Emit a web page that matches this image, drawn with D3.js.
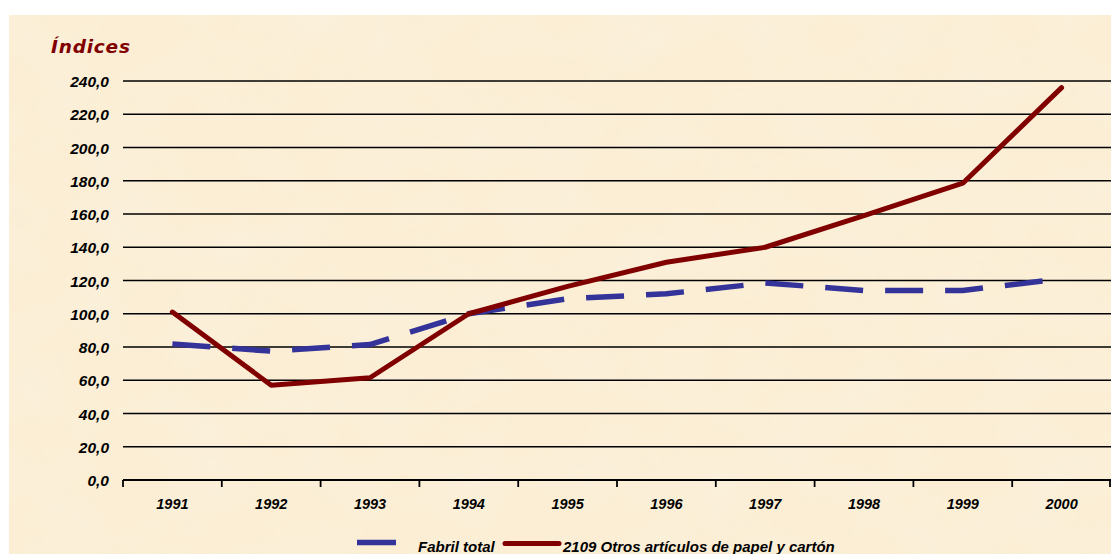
<!DOCTYPE html>
<html>
<head>
<meta charset="utf-8">
<script src="https://cdn.jsdelivr.net/npm/d3@7/dist/d3.min.js"></script>
<style>
  html, body { margin: 0; padding: 0; background: #ffffff; }
  svg { display: block; }
</style>
</head>
<body>
<div id="chart"></div>
<script>
// Data
var years = ['1991', '1992', '1993', '1994', '1995', '1996', '1997', '1998', '1999', '2000'];
var fabrilTotal = [81.8, 77.5, 81.5, 100, 109, 112, 118.5, 114, 114, 121];
var papelCarton = [101, 57, 61.5, 100, 116.5, 131, 140, 159, 178.5, 236];
var yTicks = [0, 20, 40, 60, 80, 100, 120, 140, 160, 180, 200, 220, 240];
var seriesNames = ['Fabril total', '2109 Otros artículos de papel y cartón'];

var W = 1111, H = 554;
var COLORS = {
  BLUE: '#333399',
  RED: '#800000',
  TEXT: '#000000',
  BG: '#fbeed4'
};

var svg = d3.select('#chart').append('svg')
  .attr('width', W)
  .attr('height', H);

// Parchment-ish background
var defs = svg.append('defs');
var filt = defs.append('filter').attr('id', 'paper')
  .attr('x', 0).attr('y', 0).attr('width', '100%').attr('height', '100%');
filt.append('feTurbulence')
  .attr('type', 'fractalNoise')
  .attr('baseFrequency', '0.012 0.018')
  .attr('numOctaves', 4)
  .attr('seed', 7)
  .attr('result', 'noise');
filt.append('feColorMatrix')
  .attr('in', 'noise')
  .attr('type', 'matrix')
  .attr('values', '0 0 0 0 0.96  0 0 0 0 0.88  0 0 0 0 0.74  0 0 0 -1.1 0.75')
  .attr('result', 'tint');
filt.append('feComposite').attr('in', 'tint').attr('in2', 'SourceGraphic').attr('operator', 'in');

svg.append('rect')
  .attr('x', 9).attr('y', 15)
  .attr('width', W - 9).attr('height', H - 15)
  .attr('fill', COLORS.BG);
svg.append('rect')
  .attr('x', 9).attr('y', 15)
  .attr('width', W - 9).attr('height', H - 15)
  .attr('fill', COLORS.BG)
  .attr('filter', 'url(#paper)');

// Plot area
var plotLeft = 123, plotRight = 1111, plotTop = 81, plotBottom = 480;

var x = d3.scaleBand().domain(years).range([plotLeft, plotRight]).padding(0);
var y = d3.scaleLinear().domain([0, 240]).range([plotBottom, plotTop]);

var FONT = 'Liberation Sans, Arial, sans-serif';

// Grid lines
svg.append('g')
  .selectAll('line')
  .data(yTicks.filter(function(d) { return d > 0; }))
  .enter().append('line')
  .attr('x1', plotLeft).attr('x2', plotRight)
  .attr('y1', function(d) { return y(d); })
  .attr('y2', function(d) { return y(d); })
  .attr('stroke', '#000')
  .attr('stroke-width', 1.6);

// Y axis labels
svg.append('g')
  .selectAll('text')
  .data(yTicks)
  .enter().append('text')
  .attr('x', 109)
  .attr('y', function(d) { return y(d) + 6; })
  .attr('text-anchor', 'end')
  .attr('font-family', FONT)
  .attr('font-size', '15.5px')
  .attr('font-weight', 'bold')
  .attr('font-style', 'italic')
  .attr('fill', COLORS.TEXT)
  .text(function(d) { return d.toFixed(1).replace('.', ','); });

// X axis
var xAxis = svg.append('g')
  .attr('transform', 'translate(0,' + plotBottom + ')')
  .call(d3.axisBottom(x).tickSize(0).tickPadding(19));
xAxis.select('.domain').remove();
xAxis.selectAll('text')
  .attr('font-family', FONT)
  .attr('font-size', '14.5px')
  .attr('font-weight', 'bold')
  .attr('font-style', 'italic')
  .attr('fill', COLORS.TEXT);

svg.append('line')
  .attr('x1', plotLeft).attr('x2', plotRight)
  .attr('y1', plotBottom).attr('y2', plotBottom)
  .attr('stroke', '#000').attr('stroke-width', 1.8);

var tickPositions = years.map(function(d) { return x(d); }).concat([plotRight]);
svg.append('g')
  .selectAll('line')
  .data(tickPositions)
  .enter().append('line')
  .attr('x1', function(d) { return d === plotRight ? d - 1 : d; })
  .attr('x2', function(d) { return d === plotRight ? d - 1 : d; })
  .attr('y1', plotBottom).attr('y2', plotBottom + 7)
  .attr('stroke', '#000').attr('stroke-width', 1.8);

// Title
svg.append('text')
  .attr('x', 51).attr('y', 53)
  .attr('font-family', 'DejaVu Sans, Verdana, sans-serif')
  .attr('font-size', '18.5px')
  .attr('font-weight', 'bold')
  .attr('font-style', 'italic')
  .attr('letter-spacing', '0.8px')
  .attr('fill', COLORS.RED)
  .text('Índices');

// Lines
var line = d3.line()
  .x(function(d, i) { return x(years[i]) + x.bandwidth() / 2; })
  .y(function(d) { return y(d); });

svg.append('path')
  .datum(fabrilTotal)
  .attr('d', line)
  .attr('fill', 'none')
  .attr('stroke', COLORS.BLUE)
  .attr('stroke-width', 5.5)
  .attr('stroke-dasharray', '38,22');

svg.append('path')
  .datum(papelCarton)
  .attr('d', line)
  .attr('fill', 'none')
  .attr('stroke', COLORS.RED)
  .attr('stroke-width', 5)
  .attr('stroke-linejoin', 'round')
  .attr('stroke-linecap', 'round');

// Legend
var legend = svg.append('g');
legend.append('line')
  .attr('x1', 357).attr('x2', 396)
  .attr('y1', 542.5).attr('y2', 542.5)
  .attr('stroke', COLORS.BLUE).attr('stroke-width', 5.5);
legend.append('text')
  .attr('x', 418).attr('y', 552)
  .attr('font-family', FONT)
  .attr('font-size', '15px')
  .attr('font-weight', 'bold')
  .attr('font-style', 'italic')
  .attr('fill', COLORS.TEXT)
  .text(seriesNames[0]);
legend.append('line')
  .attr('x1', 505).attr('x2', 559)
  .attr('y1', 543.5).attr('y2', 543.5)
  .attr('stroke', COLORS.RED).attr('stroke-width', 5)
  .attr('stroke-linecap', 'round');
legend.append('text')
  .attr('x', 563).attr('y', 552)
  .attr('font-family', FONT)
  .attr('font-size', '15px')
  .attr('font-weight', 'bold')
  .attr('font-style', 'italic')
  .attr('fill', COLORS.TEXT)
  .text(seriesNames[1]);
</script>
</body>
</html>
